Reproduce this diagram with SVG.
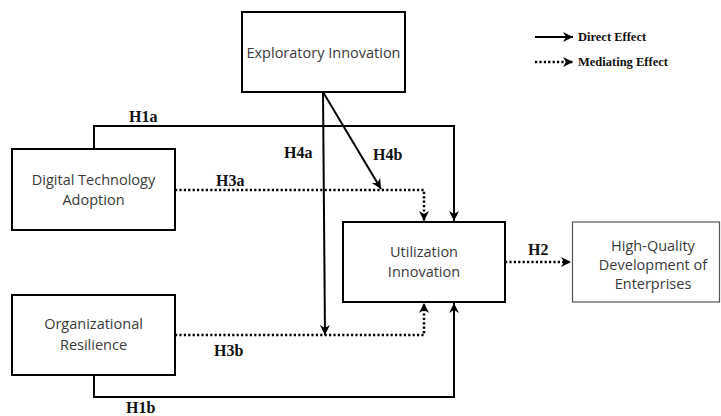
<svg xmlns="http://www.w3.org/2000/svg" width="721" height="416" viewBox="0 0 721 416">
<style>
.box{fill:#fff;stroke:#000;stroke-width:2}
.box2{fill:#fff;stroke:#555;stroke-width:1.2}
.t{font-family:"Open Sans","Liberation Sans",sans-serif;font-size:14.5px;fill:#3a3a3a;text-anchor:middle}
.h{font-family:"Liberation Serif","Times New Roman",serif;font-weight:bold;font-size:16px;fill:#111}
.lg{font-family:"Liberation Serif","Times New Roman",serif;font-weight:bold;font-size:12.5px;fill:#111}
.s{fill:none;stroke:#000;stroke-width:2}
.d{fill:none;stroke:#000;stroke-width:2.5;stroke-dasharray:2.2 2.2}
</style>
<defs>
<marker id="ah" viewBox="0 0 10 10" refX="10" refY="5" markerWidth="10" markerHeight="10" markerUnits="userSpaceOnUse" orient="auto">
<path d="M0,0 L10,5 L0,10 L3,5 z" fill="#000"/>
</marker>
</defs>
<g id="connectors">
<path class="s" d="M94,149 V126 H454 V221" marker-end="url(#ah)"/>
<path class="s" d="M94,375 V397 H454 V303" marker-end="url(#ah)"/>
<path class="d" d="M175,190 H424 V221" marker-end="url(#ah)"/>
<path class="d" d="M175,335 H424 V303" marker-end="url(#ah)"/>
<path class="s" d="M323,92 L325,335" marker-end="url(#ah)"/>
<path class="s" d="M323,92 L381,189" marker-end="url(#ah)"/>
<path class="d" d="M505,262 H571" marker-end="url(#ah)"/>
<text class="h" x="129" y="122">H1a</text>
<text class="h" x="284" y="158">H4a</text>
<text class="h" x="216" y="186">H3a</text>
<text class="h" x="373" y="160">H4b</text>
<text class="h" x="214" y="356">H3b</text>
<text class="h" x="126" y="412.5">H1b</text>
<text class="h" x="528" y="255">H2</text>
</g>
<g id="legend">
<path class="s" d="M535,37 H573" marker-end="url(#ah)"/>
<text class="lg" x="578" y="41">Direct Effect</text>
<path class="d" d="M535,62 H573" marker-end="url(#ah)"/>
<text class="lg" x="578" y="66">Mediating Effect</text>
</g>
<g id="exploratory">
<rect class="box" x="242" y="12" width="163" height="80"/>
<text class="t" x="323.5" y="58">Exploratory Innovation</text>
</g>
<g id="digital">
<rect class="box" x="12" y="149" width="163" height="81"/>
<text class="t" x="93.5" y="185">Digital Technology</text>
<text class="t" x="93.5" y="205">Adoption</text>
</g>
<g id="resilience">
<rect class="box" x="12" y="295" width="163" height="80"/>
<text class="t" x="93.5" y="329">Organizational</text>
<text class="t" x="93.5" y="349.5">Resilience</text>
</g>
<g id="utilization">
<rect class="box" x="343" y="222" width="162" height="80"/>
<text class="t" x="424" y="257">Utilization</text>
<text class="t" x="424" y="277">Innovation</text>
</g>
<g id="highquality">
<rect class="box2" x="572.5" y="222" width="147" height="80"/>
<text class="t" x="653" y="251">High-Quality</text>
<text class="t" x="653" y="270">Development of</text>
<text class="t" x="653" y="289">Enterprises</text>
</g>
</svg>
